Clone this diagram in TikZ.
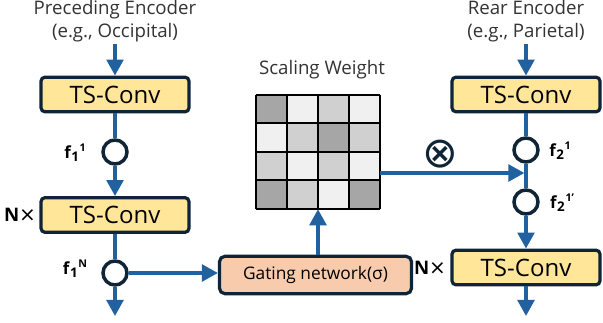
\documentclass[tikz,border=0pt]{standalone}
\usepackage{fontspec}
\setmainfont{Open Sans}
\newfontfamily\symfont{DejaVu Sans}
\usetikzlibrary{arrows.meta}
\definecolor{boxfill}{HTML}{FFE699}
\definecolor{edge}{HTML}{0F2537}
\definecolor{gatefill}{HTML}{F8CBAD}
\definecolor{arr}{HTML}{2161A0}
\definecolor{cdark}{HTML}{A6A6A6}
\definecolor{cmid}{HTML}{D0D0D0}
\definecolor{clight}{HTML}{F0F0F0}
\newcommand{\flab}[2]{f\kern0.5pt\raisebox{-2.5pt}{\fontsize{10}{12}\selectfont #1}\kern0.5pt\raisebox{5pt}{\fontsize{8}{10}\selectfont #2}}
\begin{document}
\begin{tikzpicture}[x=0.75pt,y=-0.75pt,
 conv/.style={draw=edge, line width=2.4pt, fill=boxfill, rounded corners=3pt, minimum width=111pt, minimum height=26pt, inner sep=0pt, font=\fontsize{18}{20}\selectfont},
 gatebox/.style={draw=edge, line width=2.4pt, fill=gatefill, rounded corners=4pt, minimum width=144pt, minimum height=28pt, inner sep=0pt, font=\fontsize{13}{15}\selectfont},
 feat/.style={circle, draw=edge, line width=2.6pt, fill=white, minimum size=18pt, inner sep=0pt},
 flow/.style={draw=arr, line width=2.6pt},
 flowarr/.style={flow, -{Triangle[length=12pt,width=12.5pt]}},
 head/.style={align=center, font=\fontsize{14}{17}\selectfont, text=black!80, inner sep=0pt},
 flabel/.style={font=\fontsize{12.5}{14}\selectfont\bfseries, inner sep=0pt},
 nlabel/.style={font=\fontsize{14}{15}\selectfont, inner sep=0pt},
 cell/.style={draw=black, line width=1.5pt}
]
\useasboundingbox (0,0) rectangle (603,323);

% left column
\node[head] (prec) at (115,21) {Preceding Encoder\\(e.g., Occipital)};
\coordinate (inL) at (115,44);
\node[conv] (c1) at (115,94.5) {TS-Conv};
\node[feat] (f11) at (115,152) {};
\node[flabel] (lf11) at (75,153) {\flab{1}{1}};
\node[conv] (c2) at (115,215) {TS-Conv};
\node[nlabel] (nl) at (20,215) {\textbf{N}{\symfont\fontsize{15}{15}\selectfont ×}};
\node[feat] (f1n) at (115,273) {};
\node[flabel] (lf1n) at (75,269) {\flab{1}{N}};
\coordinate (outL) at (115,316);

% middle
\node[gatebox] (gate) at (315.5,275) {Gating network(σ)};
\node[minimum width=93pt, minimum height=85.5pt, inner sep=0pt] (mat) at (318,152) {};
\node[head] (sw) at (322,70) {Scaling Weight};
\foreach \r/\row in {0/{cdark,clight,cmid,clight},1/{clight,cmid,cdark,cmid},2/{cmid,clight,cmid,clight},3/{cdark,cmid,clight,cdark}}{
  \foreach \c [count=\i from 0] in \row {
    \fill[\c] (256+31*\i,95+28.5*\r) rectangle ++(31,28.5);
  }
}
\foreach \i in {0,...,4}{
  \draw[cell] (256+31*\i,95) -- (256+31*\i,209);
  \draw[cell] (256,95+28.5*\i) -- (380,95+28.5*\i);
}

% right column
\node[head] (rear) at (526,21) {Rear Encoder\\(e.g., Parietal)};
\coordinate (inR) at (526,44);
\node[conv] (c3) at (526,94.5) {TS-Conv};
\node[feat] (f21) at (526,150) {};
\node[flabel] (lf21) at (560,151) {\flab{2}{1}};
\coordinate (join) at (526,173);
\node[feat] (f21p) at (526,202) {};
\node[flabel] (lf21p) at (562,203) {\flab{2}{1'}};
\node[conv] (c4) at (526,267.5) {TS-Conv};
\node[nlabel] (nr) at (430,268) {\textbf{N}{\symfont\fontsize{15}{15}\selectfont ×}};
\coordinate (outR) at (526,316);
\node[inner sep=0pt, font=\symfont\fontsize{32}{34}\selectfont, text=edge] (otimes) at (440,154) {⊗};

% connectors left
\draw[flowarr] (inL) -- (c1);
\draw[flow] (c1) -- (f11);
\draw[flowarr] (f11) -- (c2);
\draw[flow] (c2) -- (f1n);
\draw[flowarr] (f1n) -- (outL);
\draw[flowarr] (f1n.east) -- (f1n.east -| gate.west);
\draw[flowarr] (gate.north -| mat.south) -- (mat.south);

% connectors right
\draw[flowarr] (inR) -- (c3);
\draw[flow] (c3) -- (f21);
\draw[flow] (f21) -- (f21p);
\draw[flowarr] (f21p) -- (c4);
\draw[flowarr] (c4) -- (outR);
\draw[flowarr, shorten >=1.2pt] (join -| mat.east) -- (join);
\end{tikzpicture}
\end{document}
